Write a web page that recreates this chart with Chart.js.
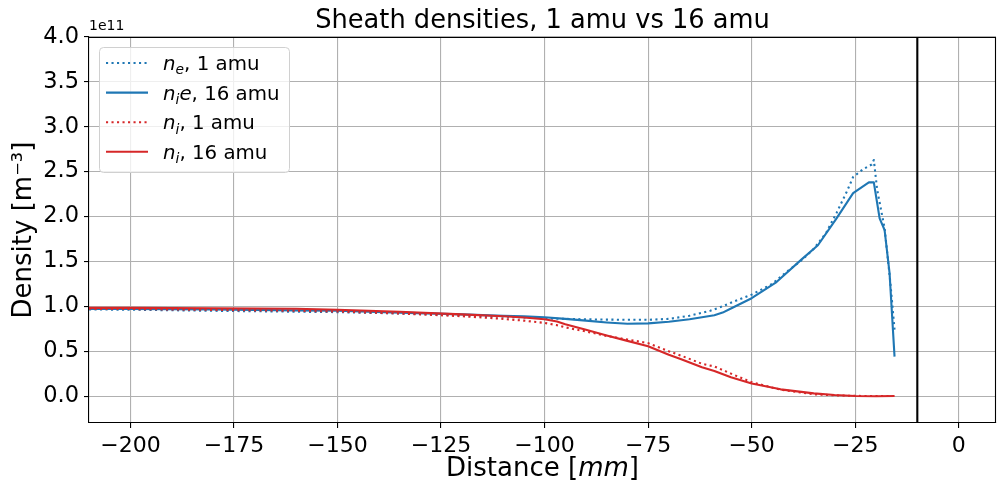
<!DOCTYPE html>
<html>
<head>
<meta charset="utf-8">
<script src="https://cdn.jsdelivr.net/npm/chart.js@4"></script>
<style>
  html, body { margin: 0; padding: 0; background: #fff; }
  #box { width: 997px; height: 487px; }
</style>
</head>
<body>
<div id="box"><canvas id="myChart"></canvas></div>
<script>
// densities in units of 1e11 m^-3, distance in mm
const neX1 = [-210, -200, -180, -160, -150, -135, -120, -110, -100, -95, -90, -85, -80, -75, -70, -65, -60, -57, -55, -50, -45, -43, -40, -38, -35, -32, -29.5, -27, -25.5, -23, -21, -20.5, -19.7, -17.9, -16.5, -15.5];
const neY1 = [0.965, 0.962, 0.95, 0.94, 0.935, 0.92, 0.90, 0.885, 0.865, 0.86, 0.855, 0.852, 0.85, 0.85, 0.86, 0.895, 0.95, 1.0, 1.04, 1.13, 1.25, 1.33, 1.44, 1.51, 1.64, 1.82, 2.04, 2.28, 2.44, 2.53, 2.58, 2.63, 2.30, 1.87, 1.26, 0.74];

const nieX16 = [-210, -200, -180, -160, -150, -135, -120, -110, -105, -100, -95, -90, -85, -80, -75, -70, -65, -62, -59, -57, -55, -50, -44, -38, -34, -29.5, -25.5, -21.7, -20.5, -19.1, -17.9, -16.7, -15.5];
const nieY16 = [0.97, 0.97, 0.965, 0.955, 0.95, 0.93, 0.91, 0.895, 0.888, 0.878, 0.86, 0.84, 0.82, 0.805, 0.81, 0.828, 0.855, 0.878, 0.90, 0.93, 0.975, 1.09, 1.27, 1.52, 1.68, 1.98, 2.26, 2.38, 2.38, 1.98, 1.85, 1.37, 0.44];

const niX1 = [-210, -200, -180, -160, -150, -135, -120, -110, -105, -100, -97, -95, -90, -85, -80, -75, -70, -67, -62, -59, -55, -50, -43, -35, -30, -25, -20, -15.5];
const niY1 = [0.972, 0.97, 0.96, 0.95, 0.942, 0.92, 0.89, 0.86, 0.84, 0.815, 0.79, 0.765, 0.72, 0.67, 0.63, 0.59, 0.50, 0.45, 0.36, 0.33, 0.25, 0.155, 0.07, 0.02, 0.008, 0.002, 0.0, 0.0];

const niX16 = [-210, -200, -180, -160, -150, -135, -120, -110, -105, -100, -97, -95, -90, -85, -80, -75, -70, -67, -62, -59, -55, -50, -43, -35, -30, -25, -20, -15.5];
const niY16 = [0.982, 0.982, 0.978, 0.972, 0.962, 0.94, 0.91, 0.89, 0.875, 0.855, 0.83, 0.80, 0.74, 0.675, 0.615, 0.556, 0.46, 0.41, 0.32, 0.28, 0.21, 0.14, 0.075, 0.03, 0.012, 0.0, -0.002, 0.0];

const wallX = [-10, -10];
const wallY = [-0.3, 4.0];

const xTicks = [-200, -175, -150, -125, -100, -75, -50, -25, 0];
const yTicks = [0.0, 0.5, 1.0, 1.5, 2.0, 2.5, 3.0, 3.5, 4.0];

const BLUE = '#1f77b4';
const RED = '#d62728';
const FONT = '"DejaVu Sans", sans-serif';
const DOT = [2.1, 3.4];

function pts(xs, ys) {
  return xs.map((x, i) => ({ x: x, y: ys[i] }));
}

function line(data, color, dash) {
  return {
    data: data,
    borderColor: color,
    borderWidth: 2.1,
    borderDash: dash || [],
    borderCapStyle: 'butt',
    borderJoinStyle: 'round',
    pointRadius: 0,
    showLine: true,
    fill: false,
    tension: 0
  };
}

const minus = v => (v < 0 ? '\u2212' + Math.abs(v) : String(v));

// draw a run of text pieces: {t, it, sub}
function richText(ctx, parts, x, y, size) {
  let cx = x;
  ctx.textBaseline = 'alphabetic';
  ctx.textAlign = 'left';
  parts.forEach(p => {
    const s = p.sub ? size * 0.7 : size;
    ctx.font = (p.it ? 'italic ' : '') + s + 'px ' + FONT;
    ctx.fillText(p.t, cx, y + (p.sub ? size * 0.22 : 0));
    cx += ctx.measureText(p.t).width;
  });
  return cx;
}

const decor = {
  id: 'decor',
  afterDraw(chart) {
    const ctx = chart.ctx;
    const a = chart.chartArea;
    ctx.save();

    // top and right spines
    ctx.strokeStyle = '#000';
    ctx.lineWidth = 1.1;
    ctx.beginPath();
    ctx.moveTo(a.left, a.top + 0.5);
    ctx.lineTo(a.right - 0.5, a.top + 0.5);
    ctx.lineTo(a.right - 0.5, a.bottom);
    ctx.stroke();

    ctx.fillStyle = '#000';
    // title
    ctx.font = '25.7px ' + FONT;
    ctx.textAlign = 'center';
    ctx.textBaseline = 'alphabetic';
    ctx.fillText('Sheath densities, 1 amu vs 16 amu', (a.left + a.right) / 2, 28);

    // offset text
    ctx.font = '14px ' + FONT;
    ctx.textAlign = 'left';
    ctx.fillText('1e11', a.left, 30);

    // x label
    const xl = [{ t: 'Distance [' }, { t: 'mm', it: true }, { t: ']' }];
    let w = 0;
    xl.forEach(p => { ctx.font = (p.it ? 'italic ' : '') + '26px ' + FONT; w += ctx.measureText(p.t).width; });
    richText(ctx, xl, (a.left + a.right) / 2 - w / 2, 476, 26);

    // y label
    ctx.save();
    ctx.translate(31, (a.top + a.bottom) / 2);
    ctx.rotate(-Math.PI / 2);
    ctx.font = '26px ' + FONT;
    ctx.textAlign = 'center';
    ctx.fillText('Density [m\u207B\u00B3]', 0, 0);
    ctx.restore();

    // legend
    const lx = 99, ly = 47, lw = 190, lh = 125;
    ctx.beginPath();
    ctx.roundRect(lx + 0.5, ly + 0.5, lw, lh, 4);
    ctx.fillStyle = 'rgba(255,255,255,0.8)';
    ctx.fill();
    ctx.strokeStyle = '#d0d0d0';
    ctx.lineWidth = 1;
    ctx.stroke();

    const rows = [
      { c: BLUE, d: DOT, p: [{ t: 'n', it: true }, { t: 'e', it: true, sub: true }, { t: ', 1 amu' }] },
      { c: BLUE, d: [], p: [{ t: 'n', it: true }, { t: 'i', it: true, sub: true }, { t: 'e', it: true }, { t: ', 16 amu' }] },
      { c: RED, d: DOT, p: [{ t: 'n', it: true }, { t: 'i', it: true, sub: true }, { t: ', 1 amu' }] },
      { c: RED, d: [], p: [{ t: 'n', it: true }, { t: 'i', it: true, sub: true }, { t: ', 16 amu' }] }
    ];
    rows.forEach((r, i) => {
      const y = 63 + i * 29.6;
      ctx.strokeStyle = r.c;
      ctx.lineWidth = 2.1;
      ctx.setLineDash(r.d);
      ctx.beginPath();
      ctx.moveTo(106, y);
      ctx.lineTo(148, y);
      ctx.stroke();
      ctx.setLineDash([]);
      ctx.fillStyle = '#000';
      richText(ctx, r.p, 163, y + 7, 19.8);
    });

    ctx.restore();
  }
};

const canvas = document.getElementById('myChart');
const chart = new Chart(canvas.getContext('2d'), {
  type: 'scatter',
  data: {
    datasets: [
      line(pts(niX16, niY16), RED),
      line(pts(niX1, niY1), RED, DOT),
      line(pts(nieX16, nieY16), BLUE),
      line(pts(neX1, neY1), BLUE, DOT),
      line(pts(wallX, wallY), '#000')
    ]
  },
  options: {
    responsive: true,
    maintainAspectRatio: false,
    animation: false,
    layout: { padding: { left: 0, top: 37, right: 1, bottom: 0 } },
    plugins: {
      legend: { display: false },
      tooltip: { enabled: false },
      title: { display: false }
    },
    scales: {
      x: {
        type: 'linear',
        min: -210,
        max: 9,
        afterBuildTicks: s => { s.ticks = xTicks.map(v => ({ value: v })); },
        afterFit: s => { s.height = 64; },
        ticks: {
          color: '#000',
          font: { family: FONT, size: 22 },
          padding: 5,
          maxRotation: 0,
          callback: v => minus(v)
        },
        grid: { color: '#b0b0b0', lineWidth: 1.1, tickLength: 5, tickColor: '#000' },
        border: { color: '#000', width: 1.1 }
      },
      y: {
        type: 'linear',
        min: -0.3,
        max: 4.0,
        afterBuildTicks: s => { s.ticks = yTicks.map(v => ({ value: v })); },
        afterFit: s => { s.width = 89; },
        ticks: {
          color: '#000',
          font: { family: FONT, size: 22.5 },
          padding: 5,
          callback: v => v.toFixed(1)
        },
        grid: { color: '#b0b0b0', lineWidth: 1.1, tickLength: 5, tickColor: '#000' },
        border: { color: '#000', width: 1.1 }
      }
    }
  },
  plugins: [decor]
});
</script>
</body>
</html>
